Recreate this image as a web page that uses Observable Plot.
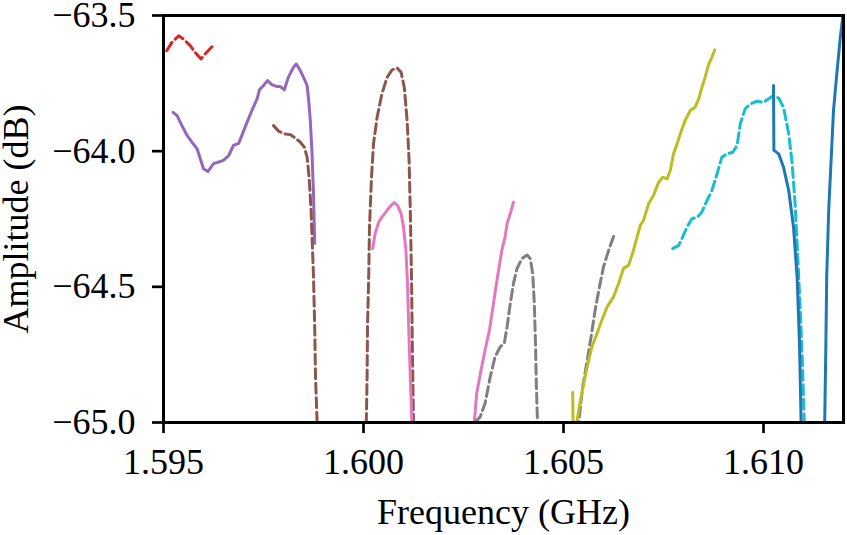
<!DOCTYPE html>
<html><head><meta charset="utf-8">
<script src="https://cdn.jsdelivr.net/npm/d3@7"></script>
<script src="https://cdn.jsdelivr.net/npm/@observablehq/plot@0.6"></script>
<style>
html,body{margin:0;padding:0;background:#fff}
svg{display:block}
</style>
</head><body><div id="chart"></div>
<script>
// Frequency (GHz) and Amplitude (dB) for each trace (values below -65 are clipped by the axis)
const fRed = [1.59508,1.59521,1.59538,1.5955,1.59567,1.59579,1.59594,1.59604,1.59625];
const aRed = [-63.630,-63.599,-63.575,-63.587,-63.611,-63.636,-63.660,-63.642,-63.609];

const fPurple = [1.59524,1.59534,1.59546,1.59559,1.59571,1.59584,1.59592,1.59600,1.59611,1.59625,1.59638,1.5965,1.59663,1.59675,1.59688,1.59696,1.59709,1.59721,1.59734,1.5974,1.5975,1.5976,1.59771,1.59784,1.59792,1.59802,1.59812,1.59824,1.59832,1.59842,1.59852,1.59859,1.59863,1.59867,1.59871,1.59875,1.59878];
const aPurple = [-63.857,-63.869,-63.906,-63.942,-63.967,-63.991,-64.028,-64.065,-64.075,-64.046,-64.040,-64.034,-64.016,-63.979,-63.971,-63.942,-63.893,-63.850,-63.807,-63.774,-63.758,-63.740,-63.755,-63.762,-63.762,-63.774,-63.728,-63.693,-63.679,-63.703,-63.734,-63.758,-63.814,-63.887,-63.997,-64.157,-64.340];

const fBrown = [1.59775,1.59788,1.598,1.59817,1.59829,1.59842,1.59852,1.59859,1.59864,1.59869,1.59872,1.59875,1.59878,1.5988,1.59884,1.5994,1.60007,1.60009,1.6001,1.60013,1.60015,1.6002,1.60025,1.60034,1.60046,1.60059,1.60071,1.60084,1.60094,1.60102,1.60109,1.60114,1.60117,1.6012,1.60122,1.60125];
const aBrown = [-63.906,-63.926,-63.936,-63.939,-63.951,-63.967,-63.985,-64.022,-64.096,-64.218,-64.340,-64.463,-64.647,-64.831,-64.998,-65.4,-65.0,-64.831,-64.647,-64.463,-64.279,-64.096,-63.973,-63.875,-63.789,-63.728,-63.701,-63.693,-63.709,-63.765,-63.887,-64.034,-64.218,-64.463,-64.708,-65.0];

const fPink = [1.60023,1.60029,1.60038,1.60046,1.60059,1.60069,1.60077,1.60085,1.60094,1.601,1.60106,1.6011,1.60113,1.60117,1.60121,1.6020,1.60277,1.60283,1.60294,1.60304,1.60315,1.60325,1.60335,1.60346,1.60354,1.60359,1.60367,1.60375];
const aPink = [-64.359,-64.304,-64.261,-64.243,-64.218,-64.200,-64.190,-64.200,-64.230,-64.279,-64.365,-64.487,-64.647,-64.831,-65.0,-65.6,-65.0,-64.892,-64.806,-64.733,-64.659,-64.561,-64.463,-64.365,-64.316,-64.267,-64.230,-64.188];

const fGray = [1.60279,1.60292,1.60304,1.60317,1.60329,1.60342,1.60352,1.60359,1.60367,1.60375,1.60384,1.60396,1.60409,1.60417,1.60423,1.60427,1.6043,1.60432,1.60435,1.6049,1.60538,1.60548,1.60558,1.60569,1.60579,1.6059,1.606,1.60613,1.60627];
const aGray = [-65.0,-64.978,-64.929,-64.831,-64.757,-64.721,-64.708,-64.647,-64.561,-64.487,-64.432,-64.396,-64.383,-64.396,-64.451,-64.561,-64.708,-64.855,-65.0,-65.3,-65.0,-64.868,-64.782,-64.684,-64.586,-64.500,-64.426,-64.365,-64.307];

const fOlive = [1.60523,1.60525,1.60529,1.60533,1.60544,1.60554,1.60563,1.60571,1.60584,1.60596,1.60609,1.60625,1.60638,1.6065,1.60663,1.60675,1.60684,1.60692,1.607,1.60713,1.60725,1.60738,1.60748,1.60759,1.60767,1.60775,1.60784,1.60792,1.60804,1.60817,1.60829,1.60838,1.60846,1.60854,1.60863,1.60871,1.60878];
const aOlive = [-64.889,-65.15,-65.1,-65.0,-64.904,-64.831,-64.770,-64.721,-64.671,-64.622,-64.574,-64.537,-64.487,-64.432,-64.420,-64.365,-64.316,-64.273,-64.255,-64.193,-64.163,-64.114,-64.096,-64.102,-64.071,-64.010,-63.973,-63.936,-63.887,-63.850,-63.838,-63.807,-63.765,-63.728,-63.679,-63.654,-63.627];

const fCyan = [1.60773,1.60788,1.60798,1.60809,1.60821,1.60835,1.60846,1.60859,1.60871,1.60884,1.60896,1.60909,1.60923,1.60934,1.60942,1.60954,1.60967,1.60984,1.61,1.61013,1.61025,1.61038,1.6105,1.61063,1.61071,1.61079,1.61086,1.61092,1.61097,1.61102];
const aCyan = [-64.359,-64.347,-64.316,-64.279,-64.249,-64.243,-64.224,-64.181,-64.145,-64.083,-64.022,-64.010,-64.004,-63.979,-63.899,-63.844,-63.826,-63.816,-63.820,-63.807,-63.795,-63.804,-63.838,-63.936,-64.034,-64.193,-64.402,-64.586,-64.770,-65.0];

const fBlue = [1.61025,1.61026,1.61038,1.6105,1.61063,1.61075,1.61084,1.6109,1.61094,1.61124,1.61153,1.61156,1.61158,1.61163,1.61169,1.61175,1.61184,1.61192,1.61198,1.61205];
const aBlue = [-63.758,-63.997,-64.010,-64.059,-64.145,-64.279,-64.463,-64.708,-65.0,-66.0,-65.0,-64.708,-64.463,-64.218,-64.034,-63.850,-63.703,-63.581,-63.507,-63.43];

const xTicks = [1.595, 1.600, 1.605, 1.610];
const yTicks = [-65.0, -64.5, -64.0, -63.5];

const series = [
  {name: "red", f: fRed, a: aRed, color: "#d62728", dashed: true},
  {name: "purple", f: fPurple, a: aPurple, color: "#9467bd", dashed: false},
  {name: "brown", f: fBrown, a: aBrown, color: "#8c564b", dashed: true},
  {name: "pink", f: fPink, a: aPink, color: "#e377c2", dashed: false},
  {name: "gray", f: fGray, a: aGray, color: "#7f7f7f", dashed: true},
  {name: "olive", f: fOlive, a: aOlive, color: "#bcbd22", dashed: false},
  {name: "cyan", f: fCyan, a: aCyan, color: "#17becf", dashed: true},
  {name: "blue", f: fBlue, a: aBlue, color: "#1f77b4", dashed: false}
];

const FS = 36;
const FONT = "Liberation Serif, Times New Roman, serif";
const plot = Plot.plot({
  width: 847,
  height: 535,
  marginLeft: 163,
  marginRight: 4,
  marginTop: 15,
  marginBottom: 113,
  style: {fontSize: FS + "px", fontFamily: FONT, color: "black", background: "white"},
  x: {domain: [1.595, 1.612]},
  y: {domain: [-65.0, -63.5]},
  marks: [
    ...series.map(s => Plot.line(
      s.f.map((f, i) => ({f, a: s.a[i]})),
      {x: "f", y: "a", stroke: s.color, strokeWidth: 3, strokeDasharray: s.dashed ? "10,4.5" : null, clip: true}
    )),
    Plot.frame({stroke: "black", strokeWidth: 3}),
    Plot.axisX({ticks: xTicks, tickFormat: d3.format(".3f"), tickSize: 11, tickPadding: 15, strokeWidth: 2.7, fontSize: FS, fontFamily: FONT, label: null}),
    Plot.axisY({ticks: yTicks, tickFormat: d3.format(".1f"), tickSize: 11, tickPadding: 17, strokeWidth: 2.7, fontSize: FS, fontFamily: FONT, label: null}),
    Plot.text(["Frequency (GHz)"], {frameAnchor: "bottom", dy: 89.5, fontSize: FS, fontFamily: FONT, lineAnchor: "middle", textAnchor: "middle"}),
    Plot.text(["Amplitude (dB)"], {frameAnchor: "left", dx: -147.5, rotate: -90, fontSize: FS, fontFamily: FONT, lineAnchor: "middle", textAnchor: "middle"})
  ]
});
document.getElementById("chart").appendChild(plot);
</script>
</body></html>
